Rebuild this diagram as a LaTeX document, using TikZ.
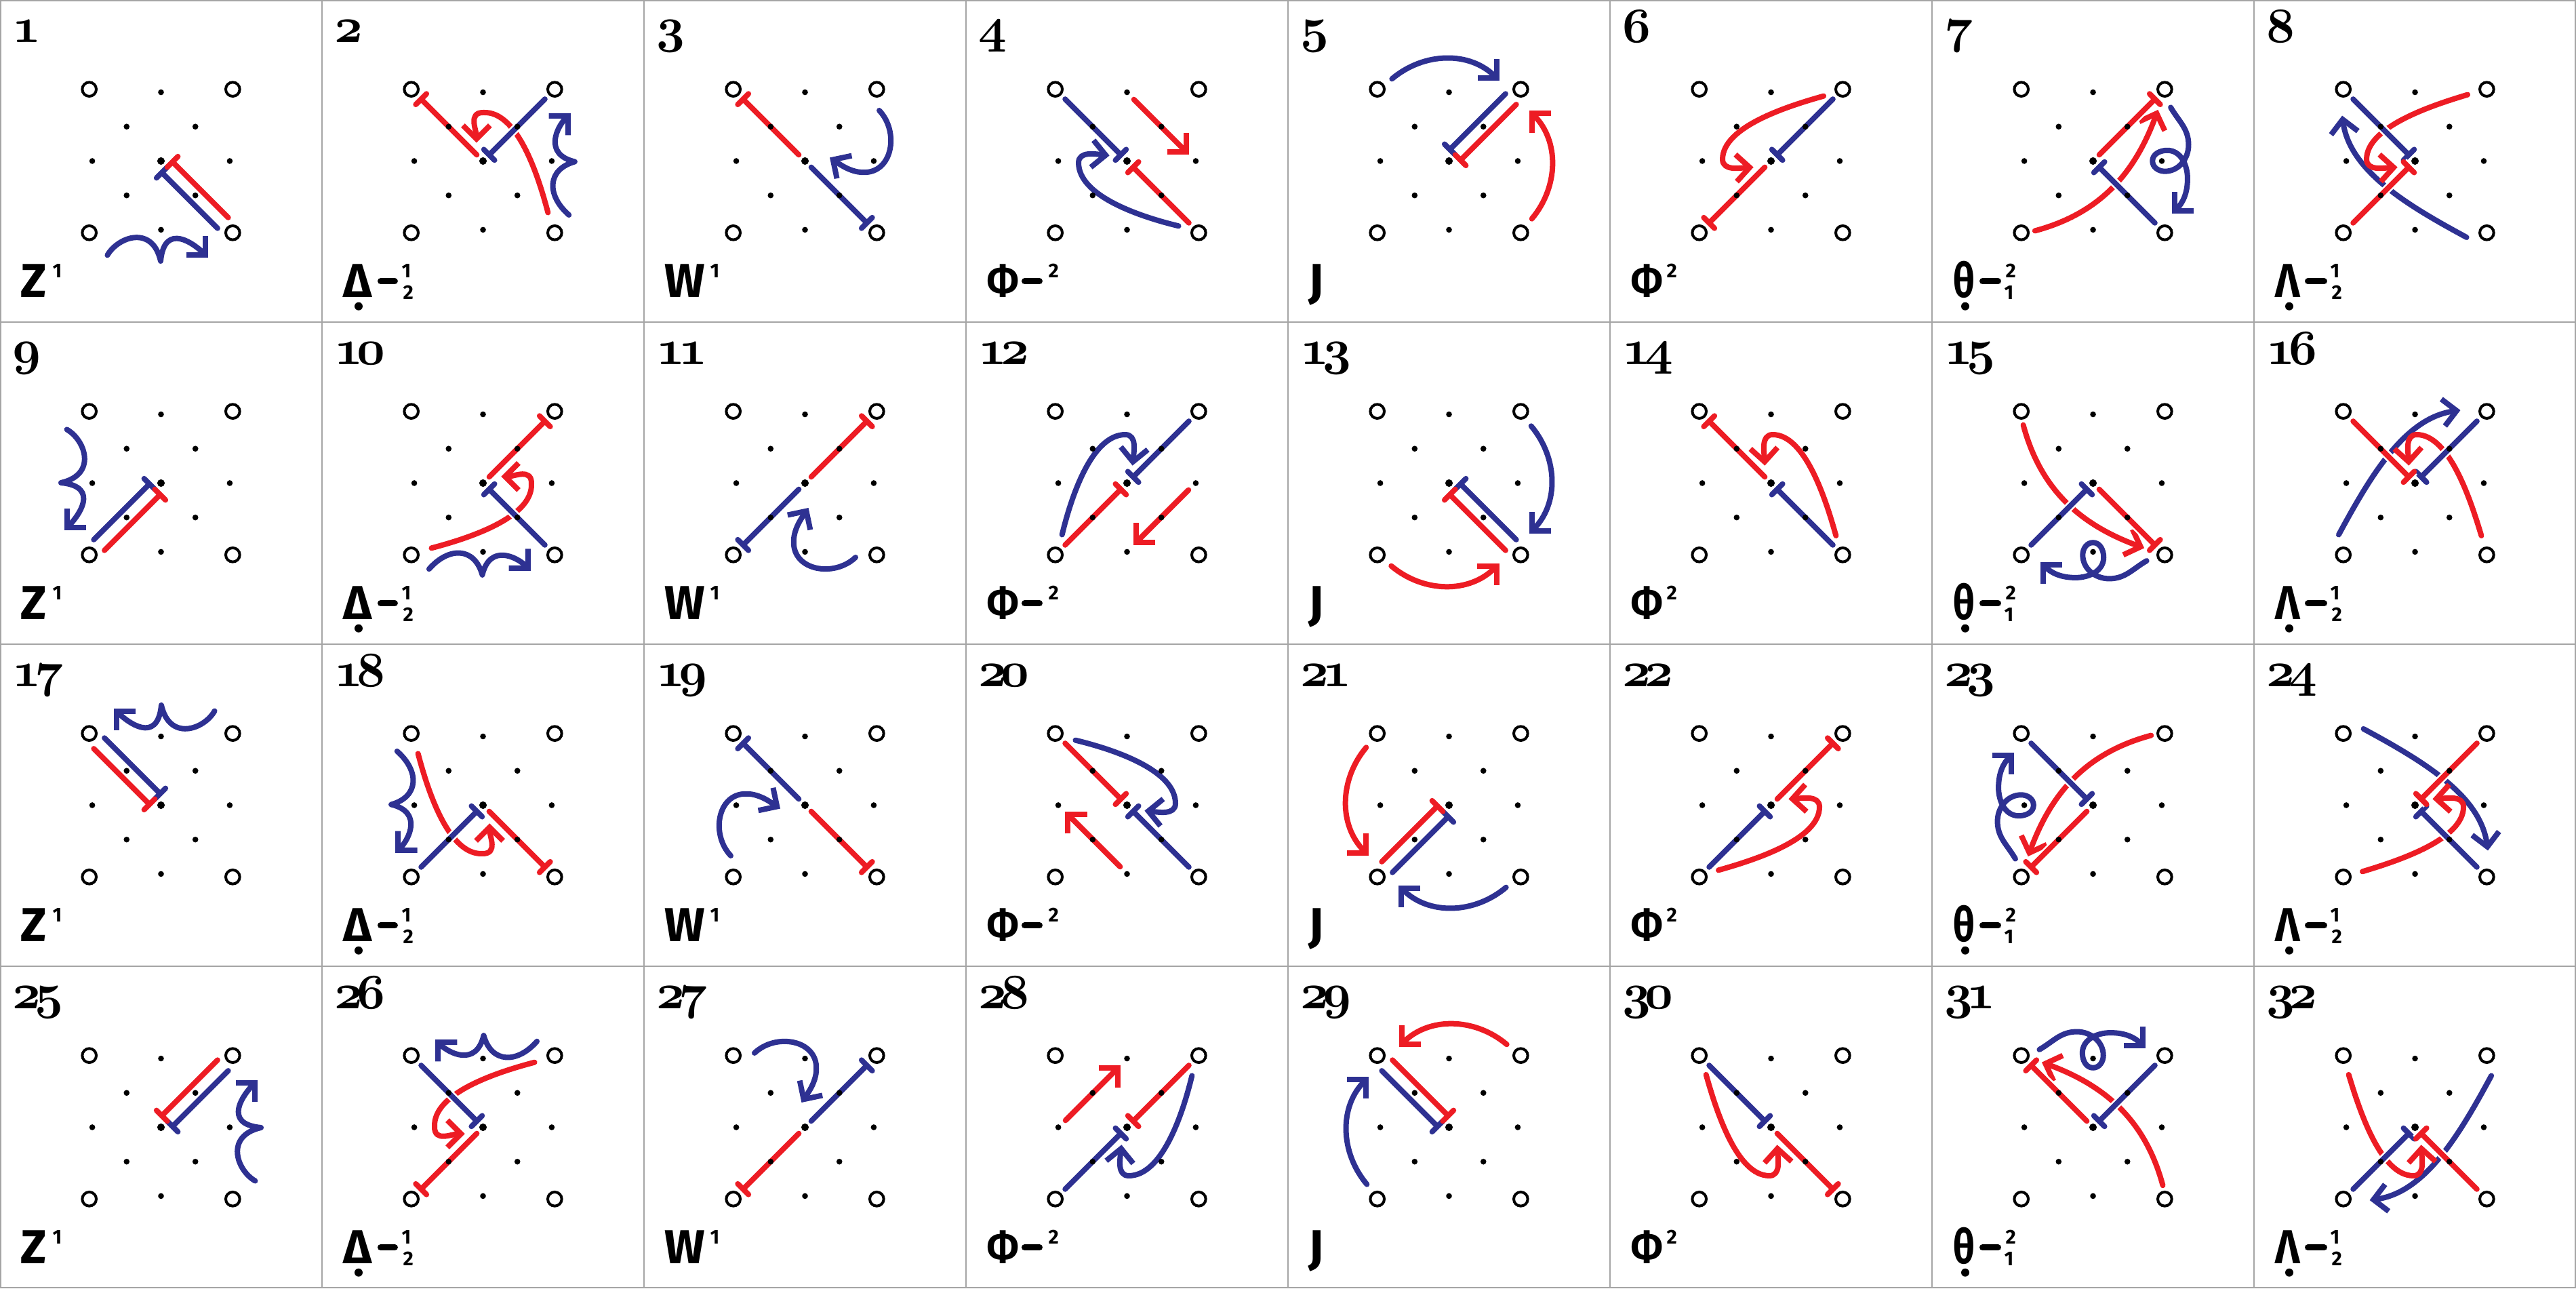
\documentclass[tikz,border=0pt]{standalone}
\usepackage{fontspec}
\usetikzlibrary{arrows.meta}
\newfontfamily\lblf{Fira Sans}
\definecolor{myred}{RGB}{237,28,36}
\definecolor{myblue}{RGB}{46,49,146}
\definecolor{gridgray}{RGB}{165,165,165}
\tikzset{
 rl/.style={draw=myred,line width=0.08cm,line cap=round,line join=round},
 bl/.style={draw=myblue,line width=0.08cm,line cap=round,line join=round},
 arr/.style={-{Straight Barb[length=0.2cm,width=0.4cm,line cap=butt,line join=miter]}},
 halo/.style={preaction={draw=white,line width=0.13cm}},
 lbl/.style={font=\lblf\bfseries\fontsize{20}{24}\selectfont,inner sep=0pt,anchor=base west},
 sup/.style={font=\lblf\bfseries\fontsize{8.4}{9}\selectfont,inner sep=0pt,anchor=base west},
 numf/.style={font=\fontencoding{OML}\fontfamily{cmm}\fontseries{b}\fontshape{it}\fontsize{20.74}{24}\selectfont,inner sep=0pt,anchor=base west},
 minus/.style={line width=0.09cm,line cap=round},
 sep/.style={draw=gridgray,line width=0.025cm},
}
\newcommand{\tw}[2]{#1\kern-2.5pt#2}
\newcommand{\sg}[4]{\begin{scope}[rotate=#2]\draw[#1,halo] (0.255,#3) -- (2.546,#3) (#4,#3) ++(0,-0.22) -- ++(0,0.44);\end{scope}}
\newcommand{\grd}{%
 \foreach \p in {(0,2),(-1,1),(1,1),(-2,0),(2,0),(-1,-1),(1,-1),(0,-2)} \fill \p circle (0.085);
 \fill (0,0) circle (0.11);
 \foreach \p in {(2.087,2.087),(-2.087,2.087),(2.087,-2.087),(-2.087,-2.087)} \draw[line width=0.04cm] \p circle (0.204);
}
\newcommand{\colA}{%
 \draw[bl,arr] (-1.56,-2.74) .. controls (-1.25,-2.2) and (-0.25,-1.85) .. (-0.01,-2.91) .. controls (0.1,-1.75) and (0.98,-2.42) .. (1.38,-2.82);
 \sg{bl}{-45}{-0.22}{0.255}
 \sg{rl}{-45}{0.22}{0.255}}
\newcommand{\colB}{%
 \draw[rl,arr] (1.89,-1.50) .. controls (1.6,-0.4) and (1.0,1.45) .. (0.02,1.41) .. controls (-0.45,1.42) and (-0.19,0.9) .. (-0.19,0.53);
 \draw[bl,arr] (2.50,-1.57) .. controls (1.85,-1.0) and (1.85,-0.25) .. (2.67,-0.02) .. controls (1.75,0.2) and (2.15,0.99) .. (2.55,1.39);
 \sg{rl}{135}{0}{2.546}
 \sg{bl}{45}{0}{0.255}}
\newcommand{\colC}{%
 \draw[bl,arr] (2.16,1.47) .. controls (2.75,0.85) and (2.55,-0.35) .. (1.70,-0.33) .. controls (1.3,-0.33) and (0.95,-0.05) .. (0.72,0.10);
 \sg{rl}{135}{0}{2.546}
 \sg{bl}{-45}{0}{2.546}}
\newcommand{\colD}{%
 \draw[rl,arr] (0.20,1.79) -- (1.80,0.19);
 \draw[bl,arr] (1.50,-1.89) .. controls (0.3,-1.6) and (-1.41,-1.0) .. (-1.41,-0.05) .. controls (-1.41,0.3) and (-0.9,0.2) .. (-0.51,0.16);
 \sg{bl}{135}{0}{0.255}
 \sg{rl}{-45}{0}{0.255}}
\newcommand{\colE}{%
 \draw[bl,arr] (-1.66,2.39) to[out=40,in=135] (1.47,2.33);
 \draw[rl,arr] (2.41,-1.68) to[out=50,in=-45] (2.34,1.46);
 \sg{bl}{45}{0.22}{0.255}
 \sg{rl}{45}{-0.22}{0.255}}
\newcommand{\colF}{%
 \draw[rl,arr] (1.53,1.89) .. controls (0.5,1.6) and (-1.41,1.0) .. (-1.41,0.05) .. controls (-1.41,-0.3) and (-0.9,-0.2) .. (-0.51,-0.18);
 \sg{rl}{-135}{0}{2.546}
 \sg{bl}{45}{0}{0.255}}
\newcommand{\colG}{%
 \draw[rl,arr] (-1.69,-2.03) to[out=15,in=-110] (1.89,1.49);
 \draw[bl,arr] (2.26,1.56) to[out=-60,in=90] (2.78,0.47) to[out=-90,in=0] (2.09,-0.30) to[out=180,in=-90] (1.73,0.0) to[out=90,in=180] (2.16,0.31) to[out=0,in=90] (2.75,-0.51) to[out=-90,in=45] (2.30,-1.53);
 \sg{rl}{45}{0}{2.546}
 \sg{bl}{-45}{0}{0.255}}
\newcommand{\colH}{%
 \draw[bl,arr] (1.50,-2.22) .. controls (-0.2,-1.3) and (-1.9,-0.3) .. (-2.12,1.32);
 \draw[rl,arr] (1.53,1.93) .. controls (0.5,1.62) and (-1.41,1.0) .. (-1.41,0.05) .. controls (-1.41,-0.3) and (-0.9,-0.2) .. (-0.51,-0.18);
 \sg{bl}{135}{0}{0.255}
 \sg{rl}{-135}{0}{0.255}}
\newcommand{\labA}[1]{\node[lbl] (L#1) at (30,439) {Z}; \node[sup] (S#1) at (77,410) {1};}
\newcommand{\labB}[1]{\node[lbl] (L#1) at (31,439) {Δ}; \fill (54,452) circle (6); \draw[minus] (86.5,415) -- (107.5,415); \node[sup] (S#1) at (117,410) {1}; \node[sup] (T#1) at (119,442) {2};}
\newcommand{\labC}[1]{\node[lbl] (L#1) at (30,439) {W}; \node[sup] (S#1) at (97,410) {1};}
\newcommand{\labD}[1]{\node[lbl] (L#1) at (31,439) {\scalebox{0.78}[1]{Φ}}; \draw[minus] (86.5,415) -- (108.5,415); \node[sup] (S#1) at (121,410) {2};}
\newcommand{\labE}[1]{\node[lbl] (L#1) at (30,439) {J};}
\newcommand{\labF}[1]{\node[lbl] (L#1) at (31,439) {\scalebox{0.78}[1]{Φ}}; \node[sup] (S#1) at (83,410) {2};}
\newcommand{\labG}[1]{\node[lbl] (L#1) at (31,439) {\scalebox{0.8}[1]{θ}}; \fill (49,452) circle (6); \draw[minus] (74.5,415) -- (97.5,415); \node[sup] (S#1) at (108,410) {2}; \node[sup] (T#1) at (106,442) {1};}
\newcommand{\labH}[1]{\node[lbl] (L#1) at (31,439) {\scalebox{0.88}[1]{Λ}}; \fill (52,452) circle (6); \draw[minus] (79.5,415) -- (103.5,415); \node[sup] (S#1) at (112,410) {1}; \node[sup] (T#1) at (114,442) {2};}
\newcommand{\cell}[5]{%
 \begin{scope}[shift={(4.75*#1+2.375,16.625-4.75*#2)},scale=0.507,rotate=-90*#2]
 #3\grd
 \end{scope}
 \begin{scope}[shift={(4.75*#1,19-4.75*#2)},x=0.01cm,y=-0.01cm]
 #4{#1#2}
 \node[numf] (N#1#2) at (18,63) {#5};
 \end{scope}}
\begin{document}
\begin{tikzpicture}
\useasboundingbox (0,0) rectangle (38,19);
\fill[white] (0,0) rectangle (38,19);
\cell{0}{0}{\colA}{\labA}{1}
\cell{1}{0}{\colB}{\labB}{2}
\cell{2}{0}{\colC}{\labC}{3}
\cell{3}{0}{\colD}{\labD}{4}
\cell{4}{0}{\colE}{\labE}{5}
\cell{5}{0}{\colF}{\labF}{6}
\cell{6}{0}{\colG}{\labG}{7}
\cell{7}{0}{\colH}{\labH}{8}
\cell{0}{1}{\colA}{\labA}{9}
\cell{1}{1}{\colB}{\labB}{\tw10}
\cell{2}{1}{\colC}{\labC}{\tw11}
\cell{3}{1}{\colD}{\labD}{\tw12}
\cell{4}{1}{\colE}{\labE}{\tw13}
\cell{5}{1}{\colF}{\labF}{\tw14}
\cell{6}{1}{\colG}{\labG}{\tw15}
\cell{7}{1}{\colH}{\labH}{\tw16}
\cell{0}{2}{\colA}{\labA}{\tw17}
\cell{1}{2}{\colB}{\labB}{\tw18}
\cell{2}{2}{\colC}{\labC}{\tw19}
\cell{3}{2}{\colD}{\labD}{\tw20}
\cell{4}{2}{\colE}{\labE}{\tw21}
\cell{5}{2}{\colF}{\labF}{\tw22}
\cell{6}{2}{\colG}{\labG}{\tw23}
\cell{7}{2}{\colH}{\labH}{\tw24}
\cell{0}{3}{\colA}{\labA}{\tw25}
\cell{1}{3}{\colB}{\labB}{\tw26}
\cell{2}{3}{\colC}{\labC}{\tw27}
\cell{3}{3}{\colD}{\labD}{\tw28}
\cell{4}{3}{\colE}{\labE}{\tw29}
\cell{5}{3}{\colF}{\labF}{\tw30}
\cell{6}{3}{\colG}{\labG}{\tw31}
\cell{7}{3}{\colH}{\labH}{\tw32}
\draw[sep] (0.0125,0.0125) rectangle (37.9875,18.9875);
\foreach \x in {4.75,9.5,14.25,19,23.75,28.5,33.25} \draw[sep] (\x,0) -- (\x,19);
\foreach \y in {4.75,9.5,14.25} \draw[sep] (0,\y) -- (38,\y);
\end{tikzpicture}
\end{document}
